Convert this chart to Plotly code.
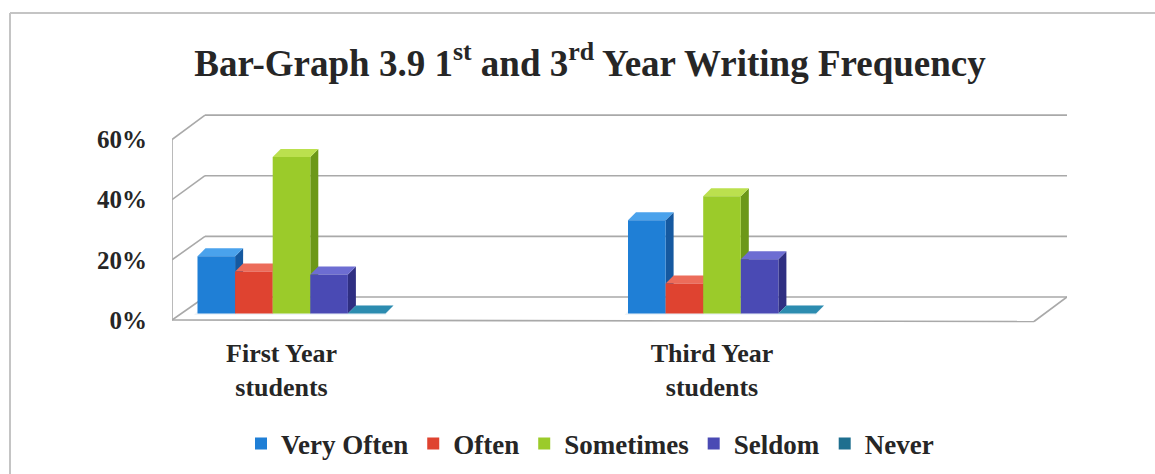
import plotly.graph_objects as go

# ---- data -------------------------------------------------------------
categories = ["First Year<br>students", "Third Year<br>students"]
series_names = ["Very Often", "Often", "Sometimes", "Seldom", "Never"]
first_year = [19, 14, 52, 13, 0]
third_year = [31, 10, 39, 18, 0]
y_levels = [0, 20, 40, 60]
y_level_text = ["0%", "20%", "40%", "60%"]

# ---- styling ----------------------------------------------------------
front_colors = ["#1f7fd6", "#df4330", "#9bcb2a", "#4a4ab4", "#1e6f8f"]
side_colors = ["#1559a0", "#a52d22", "#6c9819", "#2f2f82", "#144f68"]
top_colors = ["#4aa2ec", "#ec6c5a", "#bbe04e", "#6d6dd2", "#2c8cb0"]
wall_color = "#a9a9a9"
text_color = "#262626"
FONT = "Liberation Serif"

# ---- page geometry (pixels) ------------------------------------------
W, H = 1155, 474
ML, MR, MT, MB = 172, 88, 105, 144
PW, PH = W - ML - MR, H - MT - MB

PX_PER_CAT = 430.5           # horizontal pixels between the two groups
CAT0_PX = 291.5 - ML         # centre of first group inside the plot area
PX_PER_PCT = 3.008           # vertical pixels per percentage point
BASE_PX = 313.5 - MT         # bar baseline inside the plot area

x_range = [-CAT0_PX / PX_PER_CAT, (PW - CAT0_PX) / PX_PER_CAT]
y_range = [-(PH - BASE_PX) / PX_PER_PCT, BASE_PX / PX_PER_PCT]

BAR_W = 37.6 / PX_PER_CAT
DX = 8 / PX_PER_CAT          # bar depth, horizontal
DY = 8 / PX_PER_PCT          # bar depth, vertical

WALL_DX = 33 / PX_PER_CAT    # depth of the walls / floor
FRONT_DY = -(320 - 313.5) / PX_PER_PCT
BACK_DY = (313.5 - 297) / PX_PER_PCT


def paper_x(px):
    return (px - ML) / PW


def paper_y(py):
    return (MT + PH - py) / PH


fig = go.Figure()

values_by_cat = [first_year, third_year]
for s, name in enumerate(series_names):
    fig.add_trace(go.Bar(
        name=f"<b>{name}</b>",
        x=[0, 1],
        y=[values_by_cat[0][s], values_by_cat[1][s]],
        width=BAR_W,
        offset=-2.5 * BAR_W + s * BAR_W,
        marker=dict(color=front_colors[s], line=dict(width=0)),
        hovertemplate=name + ": %{y}%<extra></extra>",
    ))

shapes = []
line_style = dict(color=wall_color, width=1.6)

x_front_left = x_range[0]
x_back_left = x_range[0] + WALL_DX
x_back_right = x_range[1]
x_front_right = x_range[1] - WALL_DX

# back wall gridlines and side-wall diagonals
for lv in y_levels:
    yb = lv * 1.008 + BACK_DY
    yf = lv + FRONT_DY
    shapes.append(dict(type="line", xref="x", yref="y", layer="below",
                       x0=x_back_left, x1=x_back_right, y0=yb, y1=yb,
                       line=line_style))
    shapes.append(dict(type="line", xref="x", yref="y", layer="below",
                       x0=x_front_left, x1=x_back_left, y0=yf, y1=yb,
                       line=line_style))

# left wall front edge
shapes.append(dict(type="line", xref="x", yref="y", layer="below",
                   x0=x_front_left, x1=x_front_left,
                   y0=FRONT_DY, y1=60 + FRONT_DY, line=line_style))
# floor front edge and right edge
shapes.append(dict(type="line", xref="x", yref="y", layer="below",
                   x0=x_front_left, x1=x_front_right,
                   y0=FRONT_DY, y1=FRONT_DY - 0.5, line=line_style))
shapes.append(dict(type="line", xref="x", yref="y", layer="below",
                   x0=x_front_right, x1=x_back_right,
                   y0=FRONT_DY - 0.5, y1=BACK_DY, line=line_style))

# faint floor reflection under each group
for c in range(2):
    gx0 = c - 2.5 * BAR_W - 0.008
    gx1 = c + 2.5 * BAR_W
    shapes.append(dict(type="path", xref="x", yref="y", layer="below",
                       path=f"M{gx0},{-0.5} L{gx1},{-0.5} L{gx1 + DX},{DY} "
                            f"L{gx0 + DX},{DY} Z",
                       fillcolor="rgba(160,195,220,0.18)", line=dict(width=0)))

# top and side faces of the bars
for c, vals in enumerate(values_by_cat):
    for s, v in enumerate(vals):
        x0 = c - 2.5 * BAR_W + s * BAR_W
        x1 = x0 + BAR_W
        if v > 0:
            shapes.append(dict(
                type="path", xref="x", yref="y", layer="below",
                path=f"M{x1},0 L{x1},{v} L{x1 + DX},{v + DY} L{x1 + DX},{DY} Z",
                fillcolor=side_colors[s], line=dict(width=0)))
        shapes.append(dict(
            type="path", xref="x", yref="y", layer="below",
            path=f"M{x0},{v} L{x1},{v} L{x1 + DX},{v + DY} L{x0 + DX},{v + DY} Z",
            fillcolor=top_colors[s], line=dict(width=0)))

# outer frame of the chart box
frame = dict(color="#c4c4c4", width=2)
shapes.append(dict(type="line", xref="paper", yref="paper",
                   x0=paper_x(10), x1=paper_x(10), y0=paper_y(13), y1=paper_y(474),
                   line=frame))
shapes.append(dict(type="line", xref="paper", yref="paper",
                   x0=paper_x(10), x1=paper_x(1155), y0=paper_y(13), y1=paper_y(13),
                   line=frame))

fig.update_layout(
    width=W, height=H,
    margin=dict(l=ML, r=MR, t=MT, b=MB),
    paper_bgcolor="white",
    plot_bgcolor="white",
    barmode="overlay",
    shapes=shapes,
    font=dict(family=FONT, color=text_color),
    title=dict(
        text="<b>Bar-Graph 3.9 1<sup>st</sup> and 3<sup>rd</sup> Year Writing Frequency</b>",
        x=590 / W, xref="container", xanchor="center",
        y=1 - 63 / H, yref="container", yanchor="middle",
        font=dict(family=FONT, size=37, color=text_color),
    ),
    xaxis=dict(
        range=x_range, showgrid=False, zeroline=False, showline=False,
        tickmode="array",
        tickvals=[c - 10 / PX_PER_CAT for c in range(len(categories))],
        ticktext=[f"<b>{t}</b>" for t in categories],
        tickfont=dict(family=FONT, size=26, color=text_color),
        ticks="", ticklabelstandoff=5,
    ),
    yaxis=dict(
        range=y_range, showgrid=False, zeroline=False, showline=False,
        tickmode="array",
        tickvals=[lv + FRONT_DY for lv in y_levels],
        ticktext=[f"<b>{t}</b>" for t in y_level_text],
        tickfont=dict(family=FONT, size=25, color=text_color),
        ticks="", ticklabelstandoff=24,
    ),
    legend=dict(
        orientation="h",
        xref="container", yref="container",
        x=590 / W, xanchor="center",
        y=1 - 444 / H, yanchor="middle",
        font=dict(family=FONT, size=27, color=text_color),
        itemclick=False, itemdoubleclick=False,
        traceorder="normal",
    ),
    showlegend=True,
)

fig.write_html("out.html")
